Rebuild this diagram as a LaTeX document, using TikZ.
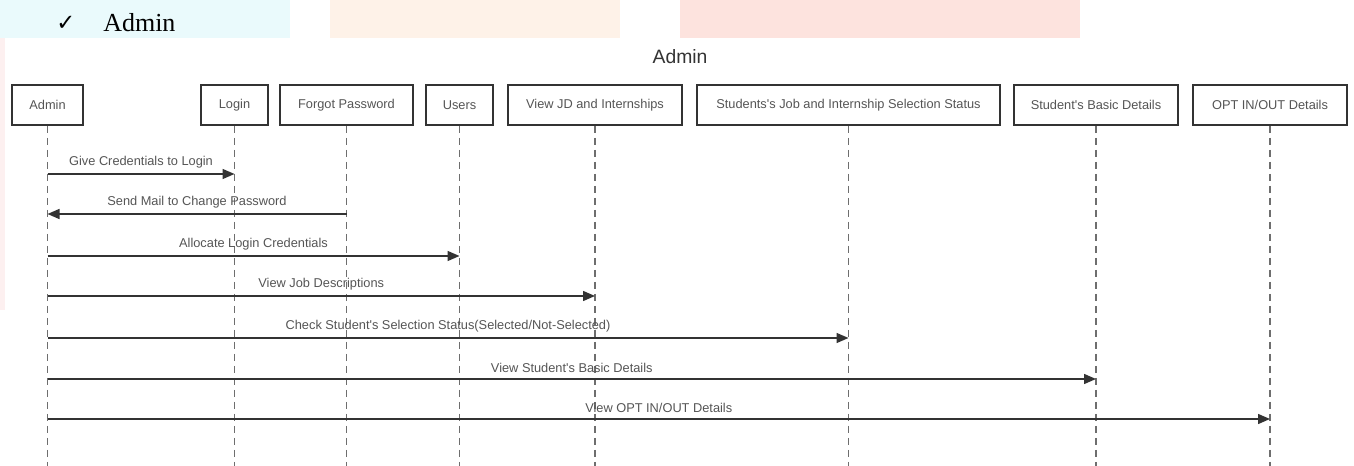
\documentclass[tikz,border=0pt]{standalone}
\usepackage{fontspec}
\setmainfont{Liberation Serif}
\newfontfamily\diagfont{Liberation Sans}
\newfontfamily\symfont{DejaVu Sans}
\usetikzlibrary{arrows.meta}
\definecolor{boxline}{HTML}{333333}
\definecolor{txtgray}{HTML}{555555}
\definecolor{lifegray}{HTML}{6E6E6E}
\definecolor{bgcyan}{HTML}{EAFAFC}
\definecolor{bgpeach}{HTML}{FEF2E8}
\definecolor{bgsalmon}{HTML}{FDE3DE}
\definecolor{bgpink}{HTML}{FDF0F0}
\begin{document}
\begin{tikzpicture}[x=0.75pt,y=-0.75pt,
  box/.style={draw=boxline, line width=1.5pt, fill=white, minimum height=30pt, inner sep=0pt,
    font=\diagfont\fontsize{9.6pt}{11pt}\selectfont, text=txtgray},
  lifeline/.style={draw=lifegray, line width=1pt, dash pattern=on 5.5pt off 3.5pt},
  msg/.style={draw=boxline, line width=1.1pt, -{Triangle[length=9pt,width=7.5pt]}},
  msglabel/.style={font=\diagfont\fontsize{9.6pt}{11pt}\selectfont, text=txtgray, inner sep=0pt, yshift=8.5pt}]
\useasboundingbox (0,0) rectangle (1354,466);
% faint background
\fill[bgcyan] (0,0) rectangle (290,38);
\fill[bgpeach] (330,0) rectangle (620,38);
\fill[bgsalmon] (680,0) rectangle (1080,38);
\fill[bgpink] (0,38) rectangle (5,310);
\fill[white] (5,38) rectangle (1354,466);
% heading
\node[anchor=base west, inner sep=0pt, font=\symfont\fontsize{17pt}{19pt}\selectfont] (chk) at (56,31) {✓};
\node[anchor=base west, inner sep=0pt, font=\fontsize{19.5pt}{22pt}\selectfont] (head) at (103,32) {Admin};
\node[inner sep=0pt, font=\diagfont\fontsize{14.5pt}{17pt}\selectfont, text=boxline] (title) at (680,57) {Admin};
% participants
\node[box, minimum width=71*0.75pt] (admin) at (47.5,105) {Admin};
\node[box, minimum width=67*0.75pt] (login) at (234.5,105) {Login};
\node[box, minimum width=133*0.75pt] (forgot) at (346.5,105) {Forgot Password};
\node[box, minimum width=67*0.75pt] (users) at (459.5,105) {Users};
\node[box, minimum width=174*0.75pt] (viewjd) at (595,105) {View JD and Internships};
\node[box, minimum width=303*0.75pt] (status) at (848.5,105) {Students's Job and Internship Selection Status};
\node[box, minimum width=164*0.75pt] (basic) at (1096,105) {Student's Basic Details};
\node[box, minimum width=154*0.75pt] (opt) at (1270,105) {OPT IN/OUT Details};
% lifeline ends
\coordinate (bottom) at (0,466);
\foreach \p in {admin,login,forgot,users,viewjd,status,basic,opt}{
  \draw[lifeline] (\p.south) -- (\p.south |- bottom);
}
% message rows
\coordinate (m1) at (0,174);
\coordinate (m2) at (0,214);
\coordinate (m3) at (0,256);
\coordinate (m4) at (0,296);
\coordinate (m5) at (0,338);
\coordinate (m6) at (0,379);
\coordinate (m7) at (0,419);
\draw[msg] (admin |- m1) -- node[msglabel]{Give Credentials to Login} (login |- m1);
\draw[msg] (forgot |- m2) -- node[msglabel]{Send Mail to Change Password} (admin |- m2);
\draw[msg] (admin |- m3) -- node[msglabel]{Allocate Login Credentials} (users |- m3);
\draw[msg] (admin |- m4) -- node[msglabel]{View Job Descriptions} (viewjd |- m4);
\draw[msg] (admin |- m5) -- node[msglabel]{Check Student's Selection Status(Selected/Not-Selected)} (status |- m5);
\draw[msg] (admin |- m6) -- node[msglabel]{View Student's Basic Details} (basic |- m6);
\draw[msg] (admin |- m7) -- node[msglabel]{View OPT IN/OUT Details} (opt |- m7);
\end{tikzpicture}
\end{document}
